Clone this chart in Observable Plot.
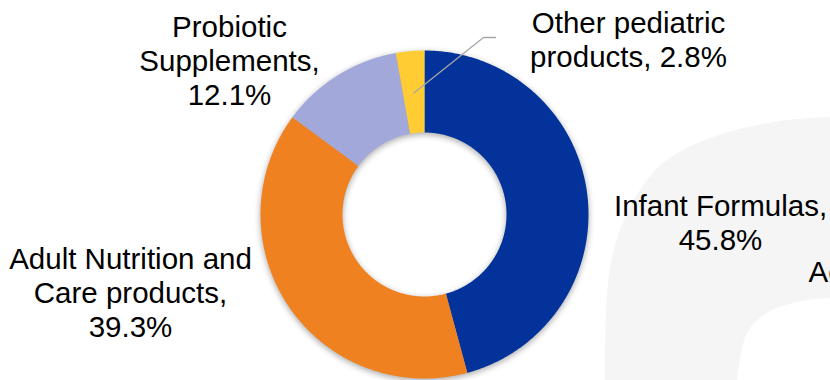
<!DOCTYPE html>
<html><head><meta charset="utf-8">
<script src="https://cdn.jsdelivr.net/npm/d3@7"></script>
<script src="https://cdn.jsdelivr.net/npm/@observablehq/plot@0.6"></script>
<style>
html,body{margin:0;padding:0;background:#fff;overflow:hidden}
#chart svg{display:block;font-family:"Liberation Sans",Arial,sans-serif;background:#fff}
#chart svg g.slices{filter:drop-shadow(0px 2px 3px rgba(0,0,0,0.35))}
</style></head><body><div id="chart"></div>
<script>
// ---- data ----
const categories = ["Infant Formulas", "Adult Nutrition and Care products", "Probiotic Supplements", "Other pediatric products"];
const shares = [45.8, 39.3, 12.1, 2.8];
const labelTexts = ["Infant Formulas,\n45.8%", "Adult Nutrition and\nCare products,\n39.3%", "Probiotic\nSupplements,\n12.1%", "Other pediatric\nproducts, 2.8%"];
const colors = ["#03339A", "#F08121", "#A2A8DA", "#FFCC33"];

// ---- layout ----
const W = 830, H = 380, cx = 424, cy = 214, rOuter = 164, rInner = 82;
const labelPos = [[720, 222], [130, 292], [229, 60], [628, 39]]; // center of each label block
const fontSize = 29.5, lineH = 1.15;

// slice polygons derived from shares via d3.pie
const pie = d3.pie().sort(null).value(d => d.v)(categories.map((c, i) => ({c, v: shares[i]})));
const pts = [];
pie.forEach(s => {
  const a0 = s.startAngle, a1 = s.endAngle, n = Math.max(4, Math.ceil((a1 - a0) / 0.01));
  for (let k = 0; k <= n; k++) { const a = a0 + (a1 - a0) * k / n; pts.push({cat: s.data.c, x: cx + rOuter * Math.sin(a), y: cy - rOuter * Math.cos(a)}); }
  for (let k = n; k >= 0; k--) { const a = a0 + (a1 - a0) * k / n; pts.push({cat: s.data.c, x: cx + rInner * Math.sin(a), y: cy - rInner * Math.cos(a)}); }
});

// leader line for the small slice: from slice midpoint to label
const other = pie[3], om = (other.startAngle + other.endAngle) / 2, rm = (rOuter + rInner) / 2;
const leader = [
  {x: cx + (rm - 2) * Math.sin(om), y: cy - rm * Math.cos(om) + 1},
  {x: 483, y: 37}, {x: 495, y: 37}
];

const labels = categories.map((c, i) => ({text: labelTexts[i], x: labelPos[i][0], y: labelPos[i][1]}));

// decorative light-grey background shape (right side)
const outerCurve = [[605, 381], [610, 267], [630, 207], [663, 163], [713, 137], [780, 121], [831, 117]];
const innerCurve = [[831, 298], [797, 302], [767, 313], [747, 333], [737, 381]];
const lineGen = d3.line().curve(d3.curveCatmullRom);
const bgPath = lineGen(outerCurve) + "L" + lineGen(innerCurve).slice(1) + "Z";

const plot = Plot.plot({
  width: W, height: H,
  margin: 0,
  x: {domain: [0, W], range: [0, W], axis: null},
  y: {domain: [0, H], range: [0, H], axis: null},
  color: {domain: categories, range: colors},
  style: {fontFamily: "'Liberation Sans', Arial, sans-serif", background: "#fff"},
  marks: [
    Plot.line(pts, {x: "x", y: "y", z: "cat", fill: "cat", stroke: null, curve: "linear-closed"}),
    Plot.line(leader, {x: "x", y: "y", stroke: "#A6A6A6", strokeWidth: 1.3}),
    Plot.text(labels, {x: "x", y: "y", text: "text", fontSize, lineHeight: lineH, lineAnchor: "middle", textAnchor: "middle", fill: "#000"}),
    Plot.text(["Ac"], {x: () => 808, y: () => 272, text: d => d, fontSize, lineAnchor: "middle", textAnchor: "start", fill: "#000"})
  ]
});
const gs = plot.querySelectorAll("g[aria-label=line]");
gs[0].classList.add("slices");
const bg = document.createElementNS("http://www.w3.org/2000/svg", "path");
bg.setAttribute("d", bgPath); bg.setAttribute("fill", "#F5F5F5");
plot.insertBefore(bg, gs[0]);
document.getElementById("chart").appendChild(plot);
</script></body></html>
